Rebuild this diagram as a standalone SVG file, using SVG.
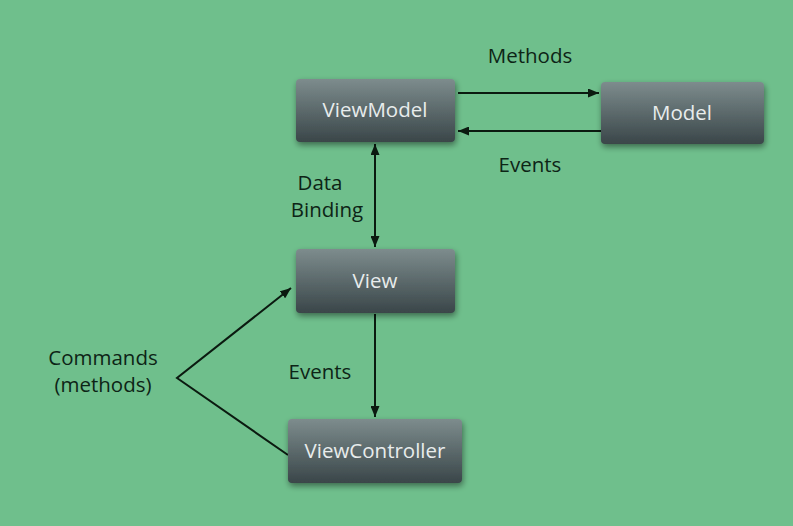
<svg xmlns="http://www.w3.org/2000/svg" width="793" height="526" viewBox="0 0 793 526">
<defs>
<linearGradient id="g" x1="0" y1="0" x2="0" y2="1">
<stop offset="0" stop-color="#7d8c8d"/>
<stop offset="1" stop-color="#3a4649"/>
</linearGradient>
<filter id="sh" x="-20%" y="-30%" width="140%" height="170%">
<feGaussianBlur in="SourceAlpha" stdDeviation="3"/>
<feOffset dx="1" dy="3" result="b"/>
<feComponentTransfer><feFuncA type="linear" slope="0.45"/></feComponentTransfer>
<feMerge><feMergeNode/><feMergeNode in="SourceGraphic"/></feMerge>
</filter>
<marker id="ah" viewBox="0 0 10 10" refX="10" refY="5" markerWidth="11" markerHeight="9" orient="auto-start-reverse" markerUnits="userSpaceOnUse" preserveAspectRatio="none">
<path d="M0,0 L10,5 L0,10 z" fill="#0b1a10"/>
</marker>
<style>
.box{fill:url(#g);filter:url(#sh)}
.bt{font-family:"Open Sans","Noto Sans",sans-serif;font-size:20.5px;fill:#e8ecec;text-anchor:middle}
.lb{font-family:"Open Sans","Noto Sans",sans-serif;font-size:20.5px;fill:#0d2416;text-anchor:middle}
.c{stroke:#0b1a10;stroke-width:2;fill:none}
</style>
</defs>
<rect width="793" height="526" fill="#6fbf8c"/>
<g id="connectors">
<line class="c" x1="458" y1="93" x2="599" y2="93" marker-end="url(#ah)"/>
<line class="c" x1="601" y1="131" x2="458" y2="131" marker-end="url(#ah)"/>
<line class="c" x1="375" y1="144" x2="375" y2="247" marker-start="url(#ah)" marker-end="url(#ah)"/>
<line class="c" x1="375" y1="314" x2="375" y2="417" marker-end="url(#ah)"/>
<polyline class="c" points="291,288 177,378 288,455" marker-start="url(#ah)"/>
</g>
<g id="labels">
<text class="lb" x="530" y="63">Methods</text>
<text class="lb" x="530" y="172">Events</text>
<text class="lb" x="320" y="190">Data</text>
<text class="lb" x="327" y="217">Binding</text>
<text class="lb" x="320" y="379">Events</text>
<text class="lb" x="103" y="365">Commands</text>
<text class="lb" x="103" y="392">(methods)</text>
</g>
<g id="ViewModel">
<rect class="box" x="296" y="79" width="159" height="63" rx="4"/>
<text class="bt" x="375" y="117">ViewModel</text>
</g>
<g id="Model">
<rect class="box" x="601" y="82" width="163" height="62" rx="4"/>
<text class="bt" x="682" y="120">Model</text>
</g>
<g id="View">
<rect class="box" x="296" y="249" width="159" height="64" rx="4"/>
<text class="bt" x="375" y="288">View</text>
</g>
<g id="ViewController">
<rect class="box" x="288" y="419" width="174" height="64" rx="4"/>
<text class="bt" x="375" y="458">ViewController</text>
</g>
</svg>
